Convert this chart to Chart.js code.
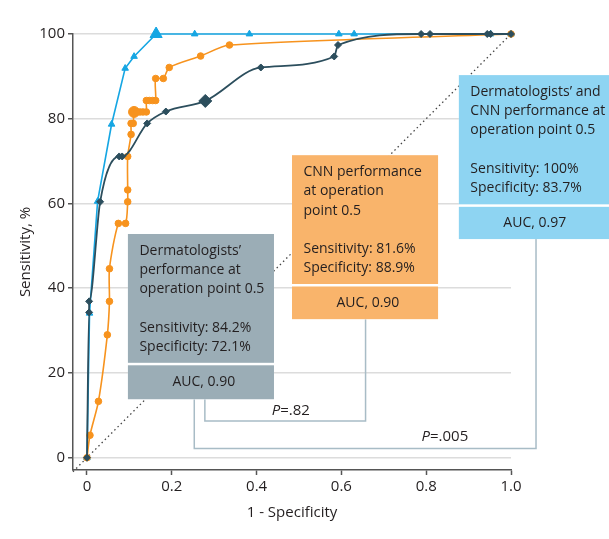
<!DOCTYPE html>
<html>
<head>
<meta charset="utf-8">
<script src="https://cdn.jsdelivr.net/npm/chart.js@4"></script>
<style>
  html, body { margin: 0; padding: 0; background: #fff; }
</style>
</head>
<body>
<canvas id="roc" width="609" height="539"></canvas>
<script>
// ROC eğrileri: 1 - özgüllük (x) ve duyarlılık % (y)
const dermFpr = [0, 0.005, 0.005, 0.031, 0.076, 0.083, 0.142, 0.186, 0.279, 0.410, 0.583, 0.592, 0.788, 0.809, 0.944, 0.952, 1.0];
const dermTpr = [0, 34.3, 36.9, 60.4, 71.1, 71.1, 78.9, 81.7, 84.2, 92.1, 94.7, 97.4, 100, 100, 100, 100, 100];

const cnnFpr = [0, 0.007, 0.027, 0.048, 0.053, 0.053, 0.074, 0.091, 0.096, 0.096, 0.096, 0.104, 0.104, 0.109, 0.111, 0.118, 0.125, 0.132, 0.140, 0.140, 0.147, 0.155, 0.162, 0.162, 0.180, 0.194, 0.268, 0.336, 1.0];
const cnnTpr = [0, 5.3, 13.3, 29.0, 36.9, 44.6, 55.3, 55.3, 60.4, 63.2, 71.1, 76.3, 78.9, 78.9, 81.6, 81.6, 81.6, 81.6, 81.6, 84.3, 84.3, 84.3, 84.3, 89.5, 89.5, 92.1, 94.8, 97.4, 100];

const combFpr = [0, 0.006, 0.025, 0.058, 0.090, 0.111, 0.163, 0.254, 0.383, 0.594, 0.630, 0.952, 1.0];
const combTpr = [0, 34.1, 60.5, 78.7, 91.9, 94.7, 100, 100, 100, 100, 100, 100, 100];

// Şans çizgisi
const chanceFpr = [-0.033, 1.0];
const chanceTpr = [-3.3, 100];

// Operasyon noktası 0.5 değerleri: dermatolog, CNN, birlikte
const opSensitivity = [84.2, 81.6, 100];
const opSpecificity = [72.1, 88.9, 83.7];
const aucValues = [0.90, 0.90, 0.97];
const pValues = ['.82', '.005'];

// Eksen işaretleri
const xTicks = [0, 0.2, 0.4, 0.6, 0.8, 1.0];
const xTickLabels = ['0', '0.2', '0.4', '0.6', '0.8', '1.0'];
const yTicks = [0, 20, 40, 60, 80, 100];

const DARK = '#2c4e5d';
const ORANGE = '#f7931e';
const BLUE = '#15a6e3';
const TEXT = '#231f20';
const FONT = '"Open Sans", "DejaVu Sans", sans-serif';

function toPoints(xs, ys) {
    return xs.map((x, i) => ({ x: x, y: ys[i] }));
}

// Operasyon noktasının indeksini bul
function opIndex(xs, ys, k) {
    const fpr = 1 - opSpecificity[k] / 100;
    return xs.findIndex((x, i) => Math.abs(x - fpr) < 0.002 && Math.abs(ys[i] - opSensitivity[k]) < 0.05);
}

const dermOp = opIndex(dermFpr, dermTpr, 0);
const cnnOp = opIndex(cnnFpr, cnnTpr, 1);
const combOp = opIndex(combFpr, combTpr, 2);

// Kutular ve P değeri çizgileri
const boxes = [
    { k: 0, x0: 0.0965, x1: 0.441, top: 52.8, split: 22.4, bottom: 13.8, fill: '#9badb6',
      title: ['Dermatologists\u2019', 'performance at', 'operation point 0.5'] },
    { k: 1, x0: 0.4835, x1: 0.828, top: 71.4, split: 41.0, bottom: 32.7, fill: '#f9b46b',
      title: ['CNN performance', 'at operation', 'point 0.5'] },
    { k: 2, x0: 0.877, x1: 1.3, top: 90.3, split: 59.8, bottom: 51.6, fill: '#8ed4f2',
      title: ['Dermatologists\u2019 and', 'CNN performance at', 'operation point 0.5'] }
];

const brackets = [
    { from: 0, to: 1, xl: 0.278, xr: 0.657, low: 8.66, px: 0.4356, py: 11.1, p: 0 },
    { from: 0, to: 2, xl: 0.253, xr: 1.059, low: 2.2, px: 0.789, py: 4.96, p: 1 }
];

const annotations = {
    id: 'annotations',
    afterDatasetsDraw(chart) {
        const { ctx, scales: { x, y } } = chart;
        ctx.save();

        // P değeri köşeli çizgileri
        ctx.strokeStyle = '#a8bcc6';
        ctx.lineWidth = 1.5;
        brackets.forEach(b => {
            const lowY = y.getPixelForValue(b.low);
            ctx.beginPath();
            ctx.moveTo(x.getPixelForValue(b.xl), y.getPixelForValue(boxes[b.from].bottom));
            ctx.lineTo(x.getPixelForValue(b.xl), lowY);
            ctx.lineTo(x.getPixelForValue(b.xr), lowY);
            ctx.lineTo(x.getPixelForValue(b.xr), y.getPixelForValue(boxes[b.to].bottom));
            ctx.stroke();

            let tx = x.getPixelForValue(b.px);
            const ty = y.getPixelForValue(b.py);
            ctx.fillStyle = TEXT;
            ctx.textBaseline = 'middle';
            ctx.textAlign = 'left';
            ctx.font = 'italic 15px ' + FONT;
            ctx.fillText('P', tx, ty);
            tx += ctx.measureText('P').width;
            ctx.font = '15px ' + FONT;
            ctx.fillText('=' + pValues[b.p], tx, ty);
        });

        boxes.forEach(b => {
            const left = x.getPixelForValue(b.x0);
            const right = x.getPixelForValue(b.x1);
            const top = y.getPixelForValue(b.top);
            const split = y.getPixelForValue(b.split);
            const bottom = y.getPixelForValue(b.bottom);

            ctx.fillStyle = '#fff';
            ctx.fillRect(left, top, right - left, bottom - top);
            ctx.fillStyle = b.fill;
            ctx.fillRect(left, top, right - left, split - top);
            ctx.fillRect(left, split + 2.5, right - left, bottom - split - 2.5);

            const lines = b.title.concat(['',
                'Sensitivity: ' + opSensitivity[b.k] + '%',
                'Specificity: ' + opSpecificity[b.k] + '%']);
            ctx.fillStyle = TEXT;
            ctx.font = '14px ' + FONT;
            ctx.textAlign = 'left';
            ctx.textBaseline = 'middle';
            lines.forEach((t, i) => ctx.fillText(t, left + 11.5, top + 17 + i * 19.2));
            ctx.fillText('AUC, ' + aucValues[b.k].toFixed(2), left + 44.5, (split + 2.5 + bottom) / 2);
        });

        ctx.restore();
    }
};

new Chart(document.getElementById('roc'), {
    type: 'line',
    data: {
        datasets: [
            {
                label: 'Dermatologists',
                data: toPoints(dermFpr, dermTpr),
                borderColor: DARK,
                backgroundColor: DARK,
                borderWidth: 1.8,
                pointStyle: 'rectRot',
                pointRadius: c => c.dataIndex === dermOp ? 6.5 : 3.5,
                pointBorderWidth: 1,
                cubicInterpolationMode: 'monotone',
                clip: false,
                order: 1
            },
            {
                label: 'CNN',
                data: toPoints(cnnFpr, cnnTpr),
                borderColor: ORANGE,
                backgroundColor: ORANGE,
                borderWidth: 1.6,
                pointStyle: 'circle',
                pointRadius: c => c.dataIndex === cnnOp ? 5.5 : 3.3,
                pointBorderWidth: 1,
                tension: 0.25,
                clip: false,
                order: 2
            },
            {
                label: 'Combined',
                data: toPoints(combFpr, combTpr),
                borderColor: BLUE,
                backgroundColor: BLUE,
                borderWidth: 1.6,
                pointStyle: 'triangle',
                pointRadius: c => c.dataIndex === combOp ? 7 : 3.8,
                pointBorderWidth: 1,
                tension: 0,
                clip: false,
                order: 3
            },
            {
                label: 'Chance',
                data: toPoints(chanceFpr, chanceTpr),
                borderColor: '#444',
                borderWidth: 1.3,
                borderDash: [1.5, 3],
                pointRadius: 0,
                clip: false,
                order: 4
            }
        ]
    },
    options: {
        responsive: false,
        animation: false,
        layout: { padding: { left: 0, right: 98, top: 34, bottom: 0 } },
        plugins: {
            legend: { display: false },
            tooltip: { enabled: false }
        },
        scales: {
            x: {
                type: 'linear',
                min: -0.033,
                max: 1.0,
                afterBuildTicks: s => { s.ticks = xTicks.map(v => ({ value: v })); },
                afterFit: s => { s.height = 69; s.paddingLeft = 0; s.paddingRight = 0; },
                ticks: {
                    callback: (v, i) => xTickLabels[i],
                    padding: 3,
                    color: TEXT,
                    font: { family: FONT, size: 15 },
                    maxRotation: 0
                },
                grid: { drawOnChartArea: false, tickLength: 5, tickColor: '#555', tickWidth: 1.5 },
                border: { color: '#555', width: 1.5 },
                title: {
                    display: true,
                    text: '1 - Specificity',
                    color: TEXT,
                    font: { family: FONT, size: 15 },
                    padding: { top: 0, bottom: 17 }
                }
            },
            y: {
                min: -2.9,
                max: 100,
                afterBuildTicks: s => { s.ticks = yTicks.map(v => ({ value: v })); },
                afterFit: s => { s.width = 73; s.paddingTop = 0; s.paddingBottom = 0; },
                ticks: {
                    padding: 3,
                    color: TEXT,
                    font: { family: FONT, size: 15 }
                },
                grid: { color: '#dcdcdc', lineWidth: 1.5, tickLength: 5, tickColor: '#555', tickWidth: 1.5 },
                border: { color: '#555', width: 1.5 },
                title: {
                    display: true,
                    text: 'Sensitivity, %',
                    color: TEXT,
                    font: { family: FONT, size: 15 },
                    padding: { top: 17, bottom: 0 }
                }
            }
        }
    },
    plugins: [annotations]
});
</script>
</body>
</html>
